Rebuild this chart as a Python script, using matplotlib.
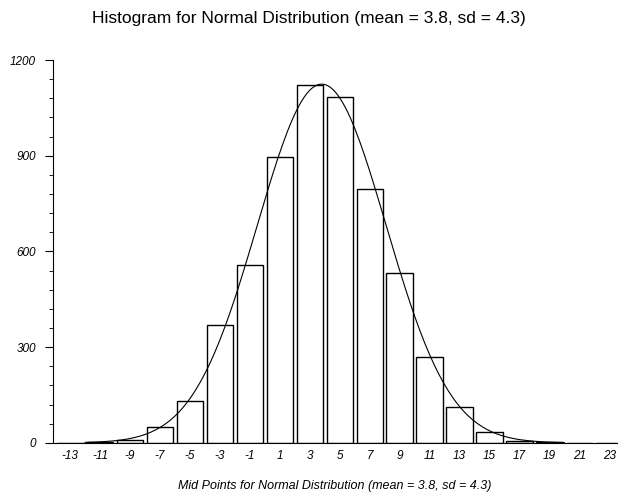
import numpy as np
import matplotlib
matplotlib.use('Agg')
import matplotlib.pyplot as plt
from matplotlib.ticker import MultipleLocator

plt.rcParams['font.family'] = ['Liberation Sans', 'DejaVu Sans']
plt.rcParams['axes.unicode_minus'] = False

# Histogram midpoints and counts
midpoints = [-13, -11, -9, -7, -5, -3, -1, 1, 3, 5, 7, 9, 11, 13, 15, 17, 19, 21, 23]
counts = [0, 3, 10, 48, 131, 369, 558, 896, 1122, 1085, 795, 532, 268, 113, 33, 6, 3, 0, 0]

mean = 3.8
sd = 4.3
bin_width = 2
sample_size = 6060

title = 'Histogram for Normal Distribution (mean = 3.8, sd = 4.3)'
xlabel = 'Mid Points for Normal Distribution (mean = 3.8, sd = 4.3)'

fig = plt.figure(figsize=(6.18, 4.92), dpi=100)
ax = fig.add_axes([0.086, 0.1, 0.912, 0.778])

ax.bar(midpoints, counts, width=1.75, color='white', edgecolor='black', linewidth=1.0)

# fitted normal curve scaled to the histogram
xs = np.linspace(-12, 20, 200)
ys = sample_size * bin_width * np.exp(-0.5 * ((xs - mean) / sd) ** 2) / (sd * np.sqrt(2 * np.pi))
ax.plot(xs, ys, color='black', linewidth=0.8)

ax.set_xlim(-14.13, 23.5)
ax.set_ylim(0, 1200)
ax.set_xticks(midpoints)
ax.set_yticks([0, 300, 600, 900, 1200])
ax.yaxis.set_minor_locator(MultipleLocator(60))

ax.spines['top'].set_visible(False)
ax.spines['right'].set_visible(False)
ax.tick_params(axis='x', length=0, pad=5, labelsize=8.5)
ax.tick_params(axis='y', which='major', length=6, labelsize=8.5, pad=6.5)
ax.tick_params(axis='y', which='minor', length=3)
for lab in ax.get_xticklabels() + ax.get_yticklabels():
    lab.set_fontstyle('italic')

ax.set_xlabel(xlabel, fontsize=9, fontstyle='italic', labelpad=13)
fig.suptitle(title, fontsize=12.5, y=0.978)

fig.savefig('out.png', dpi=100)
